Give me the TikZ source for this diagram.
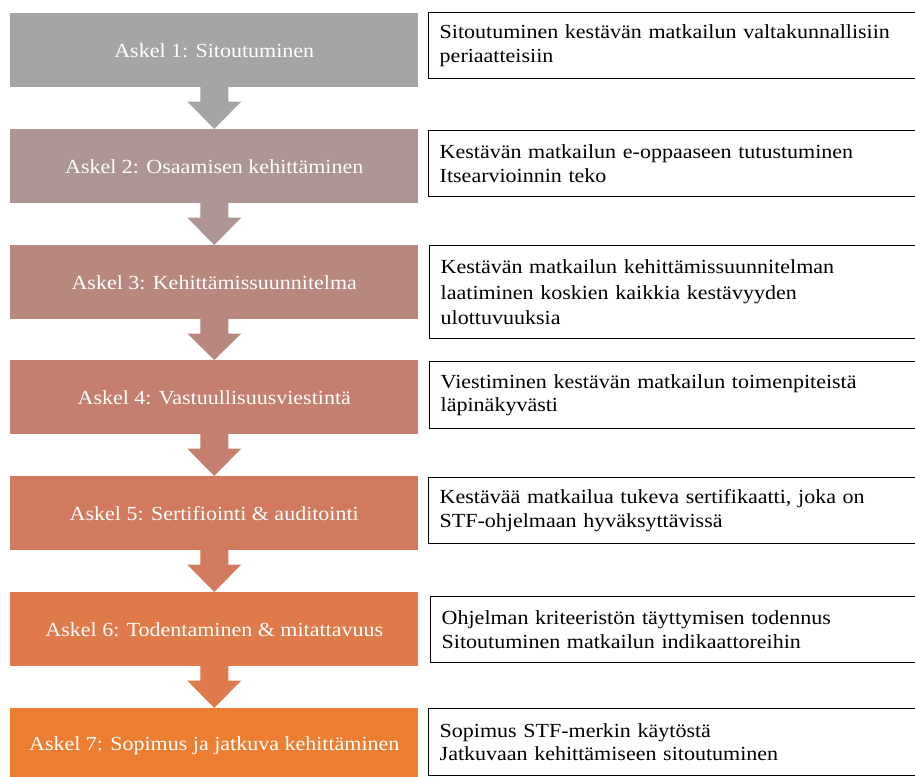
\documentclass[tikz,border=0pt]{standalone}
\usepackage{fontspec}
\setmainfont[FakeStretch=1.1]{Liberation Serif}
\usetikzlibrary{calc}
\definecolor{c1}{HTML}{A5A5A5}
\definecolor{c2}{HTML}{AE9593}
\definecolor{c3}{HTML}{B8887F}
\definecolor{c4}{HTML}{C47F6E}
\definecolor{c5}{HTML}{D17A5D}
\definecolor{c6}{HTML}{DF7A4A}
\definecolor{c7}{HTML}{EC7D31}
\begin{document}
\begin{tikzpicture}[x=0.75pt,y=-0.75pt,
  stepbox/.style={anchor=north west, minimum width=408*0.75pt, minimum height=74*0.75pt,
    inner sep=0pt, text=white, font=\fontsize{15}{17.6}\selectfont},
  descbox/.style={anchor=north west, draw=black, line width=1.1pt, text width=473*0.75pt,
    inner xsep=11*0.75pt, inner ysep=0pt, align=left, font=\fontsize{15}{17.6}\selectfont}]
\useasboundingbox (0,0) rectangle (915,777);
\clip (0,0) rectangle (915,777);
% step boxes
\node[stepbox, fill=c1] (s1) at (10,13)  {Askel 1: Sitoutuminen};
\node[stepbox, fill=c2] (s2) at (10,129) {Askel 2: Osaamisen kehittäminen};
\node[stepbox, fill=c3] (s3) at (10,245) {Askel 3: Kehittämissuunnitelma};
\node[stepbox, fill=c4] (s4) at (10,360) {Askel 4: Vastuullisuusviestintä};
\node[stepbox, fill=c5] (s5) at (10,476) {Askel 5: Sertifiointi \& auditointi};
\node[stepbox, fill=c6] (s6) at (10,592) {Askel 6: Todentaminen \& mitattavuus};
\node[stepbox, fill=c7] (s7) at (10,708) {Askel 7: Sopimus ja jatkuva kehittäminen};
% block arrows
\foreach \a/\b/\c in {s1/s2/c1, s2/s3/c2, s3/s4/c3, s4/s5/c4, s5/s6/c5, s6/s7/c6}{
  \fill[\c] ($(\a.south)+(-14,-1)$) -- ($(\a.south)+(14,-1)$) -- ($(\a.south)+(14,14)$)
    -- ($(\a.south)+(27,14)$) -- (\b.north) -- ($(\a.south)+(-27,14)$)
    -- ($(\a.south)+(-14,14)$) -- cycle;
}
% description boxes
\node[descbox, minimum height=66*0.75pt] (d1) at (428,12)
  {Sitoutuminen kestävän matkailun valtakunnallisiin\\periaatteisiin};
\node[descbox, minimum height=66*0.75pt] (d2) at (428,130)
  {Kestävän matkailun e-oppaaseen tutustuminen\\Itsearvioinnin teko};
\node[descbox, minimum height=93*0.75pt, font=\fontsize{15}{19}\selectfont] (d3) at (429,245)
  {Kestävän matkailun kehittämissuunnitelman\\laatiminen koskien kaikkia kestävyyden\\ulottuvuuksia};
\node[descbox, minimum height=67*0.75pt] (d4) at (429,361)
  {Viestiminen kestävän matkailun toimenpiteistä\\läpinäkyvästi};
\node[descbox, minimum height=66*0.75pt] (d5) at (428,477)
  {Kestävää matkailua tukeva sertifikaatti, joka on\\STF-ohjelmaan hyväksyttävissä};
\node[descbox, minimum height=66*0.75pt] (d6) at (430,596)
  {Ohjelman kriteeristön täyttymisen todennus\\Sitoutuminen matkailun indikaattoreihin};
\node[descbox, minimum height=67*0.75pt] (d7) at (428,708)
  {Sopimus STF-merkin käytöstä\\Jatkuvaan kehittämiseen sitoutuminen};
\end{tikzpicture}
\end{document}
